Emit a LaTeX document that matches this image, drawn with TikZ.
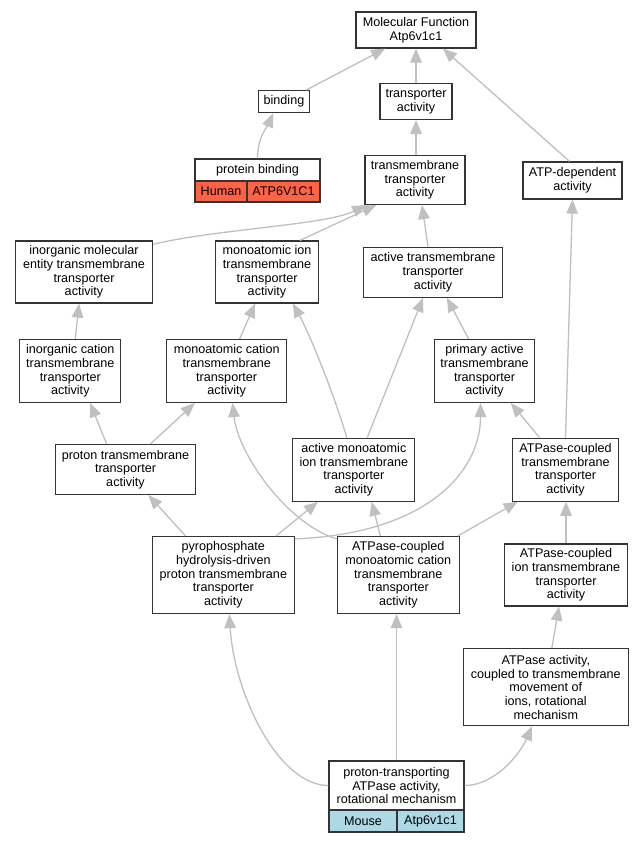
\documentclass[tikz,border=0pt]{standalone}
\usepackage{fontspec}
\setmainfont{Liberation Sans}
\usetikzlibrary{arrows.meta}
\definecolor{edgec}{RGB}{192,192,192}
\definecolor{boxc}{RGB}{51,51,51}
\definecolor{humanc}{RGB}{255,99,71}
\definecolor{mousec}{RGB}{173,216,230}
\tikzset{arrtip/.tip={Triangle[length=14bp,width=11.5bp]}}
\begin{document}
\begin{tikzpicture}[x=1bp,y=-1bp,
 box/.style={draw=boxc, line width=1.2bp, fill=white, inner sep=0pt, align=center, font=\fontsize{12.6bp}{13.7bp}\selectfont},
 conn/.style={draw=edgec, line width=1.3bp, -arrtip},
]
\useasboundingbox[fill=white] (0,0) rectangle (643,843);
\node[box, minimum width=120bp, minimum height=36bp] (mf) at (416,30) {Molecular Function\\Atp6v1c1};
\node[box, minimum width=51bp, minimum height=22bp] (binding) at (284,101.7) {binding};
\node[box, minimum width=72bp, minimum height=36bp] (transp) at (416,101.5) {transporter\\activity};
\node[box, minimum width=125bp, minimum height=22bp] (pbtop) at (257.5,170) {protein binding};
\node[box, fill=humanc, minimum width=52bp, minimum height=21bp] (human) at (221,191.5) {Human};
\node[box, fill=humanc, minimum width=73bp, minimum height=21bp] (atph) at (283.5,191.5) {ATP6V1C1};
\node[box, minimum width=100bp, minimum height=49bp] (tt) at (415,180) {transmembrane\\transporter\\activity};
\node[box, minimum width=99bp, minimum height=37bp] (atpdep) at (572.5,180.5) {ATP-dependent\\activity};
\node[box, minimum width=137bp, minimum height=62bp] (imol) at (84,272) {inorganic molecular\\entity transmembrane\\transporter\\activity};
\node[box, minimum width=103bp, minimum height=62bp] (mion) at (267,272) {monoatomic ion\\transmembrane\\transporter\\activity};
\node[box, minimum width=139bp, minimum height=50bp] (att) at (433,272.3) {active transmembrane\\transporter\\activity};
\node[box, minimum width=101bp, minimum height=63bp] (icat) at (70.3,371) {inorganic cation\\transmembrane\\transporter\\activity};
\node[box, minimum width=120bp, minimum height=63bp] (mcat) at (226.7,371) {monoatomic cation\\transmembrane\\transporter\\activity};
\node[box, minimum width=100bp, minimum height=63bp] (prim) at (484.5,371) {primary active\\transmembrane\\transporter\\activity};
\node[box, minimum width=140bp, minimum height=50bp] (ptm) at (125.5,469.5) {proton transmembrane\\transporter\\activity};
\node[box, minimum width=122bp, minimum height=63bp] (ami) at (353.8,469.7) {active monoatomic\\ion transmembrane\\transporter\\activity};
\node[box, minimum width=106bp, minimum height=63bp] (atptt) at (565.5,469.7) {ATPase-coupled\\transmembrane\\transporter\\activity};
\node[box, minimum width=142bp, minimum height=77bp] (pyro) at (223.3,575) {pyrophosphate\\hydrolysis-driven\\proton transmembrane\\transporter\\activity};
\node[box, minimum width=122bp, minimum height=77bp] (amc) at (398.3,575) {ATPase-coupled\\monoatomic cation\\transmembrane\\transporter\\activity};
\node[box, minimum width=123bp, minimum height=62bp] (aion) at (566,575) {ATPase-coupled\\ion transmembrane\\transporter\\activity};
\node[box, minimum width=165bp, minimum height=77bp] (rot) at (545.8,687.3) {ATPase activity,\\coupled to transmembrane\\movement of\\ions, rotational\\mechanism};
\node[box, minimum width=135bp, minimum height=49bp] (ptr) at (396.5,785.5) {proton-transporting\\ATPase activity,\\rotational mechanism};
\node[box, fill=mousec, minimum width=68bp, minimum height=22bp] (mouse) at (363,821) {Mouse};
\node[box, fill=mousec, minimum width=67bp, minimum height=22bp] (atpm) at (430.5,821) {Atp6v1c1};
% edges
\draw[conn] ([xshift=-4]binding.north east) -- ([xshift=-31]mf.south);
\draw[conn] (transp.north) -- (transp.north |- mf.south);
\draw[conn] ([xshift=-3]atpdep.north) -- ([xshift=27]mf.south);
\draw[conn] (pbtop.north) .. controls +(0,-22) and +(-5,12) .. ([xshift=-11]binding.south);
\draw[conn] (tt.north -| transp.south) -- (transp.south);
\draw[conn] ([yshift=-4]imol.north east) .. controls +(60,-15) and +(-40,20) .. ([xshift=-49]tt.south);
\draw[conn] ([xshift=33]mion.north) -- ([xshift=-39]tt.south);
\draw[conn] ([xshift=-5]att.north) -- ([xshift=7]tt.south);
\draw[conn] (atptt.north) -- (atpdep.south);
\draw[conn] ([xshift=5]icat.north) -- ([xshift=-5]imol.south);
\draw[conn] ([xshift=13]mcat.north) -- ([xshift=-12]mion.south);
\draw[conn] ([xshift=-16]prim.north) -- ([xshift=14]att.south);
\draw[conn] ([xshift=-7]ami.north) .. controls +(-12,-40) and +(20,37) .. ([xshift=26]mion.south);
\draw[conn] ([xshift=13.5]ami.north) -- ([xshift=-10]att.south);
\draw[conn] ([xshift=-26]atptt.north) -- ([xshift=26.5]prim.south);
\draw[conn] ([xshift=-19]ptm.north) -- ([xshift=20]icat.south);
\draw[conn] ([xshift=25]ptm.north) -- ([xshift=-32]mcat.south);
\draw[conn] ([xshift=-38]pyro.north) -- ([xshift=23]ptm.south);
\draw[conn] ([xshift=53]pyro.north) -- ([xshift=-36]ami.south);
\draw[conn] ([yshift=-3]pyro.north east) .. controls +(130,-5) and +(0,70) .. ([xshift=-4]prim.south);
\draw[conn] ([yshift=-3]amc.north west) .. controls +(-50,-15) and +(5,50) .. ([xshift=6]mcat.south);
\draw[conn] ([xshift=-18]amc.north) -- ([xshift=18]ami.south);
\draw[conn] ([xshift=-2]amc.north east) -- ([xshift=-48]atptt.south);
\draw[conn] (aion.north) -- (aion.north |- atptt.south);
\draw[conn] ([xshift=6]rot.north) -- ([xshift=-7]aion.south);
\draw[conn] (ptr.west) .. controls +(-50,0) and +(5,80) .. ([xshift=6]pyro.south);
\draw[conn] (ptr.north) -- (ptr.north |- amc.south);
\draw[conn] (ptr.east) .. controls +(30,0) and +(-12,28) .. ([xshift=-14]rot.south);
\end{tikzpicture}
\end{document}
